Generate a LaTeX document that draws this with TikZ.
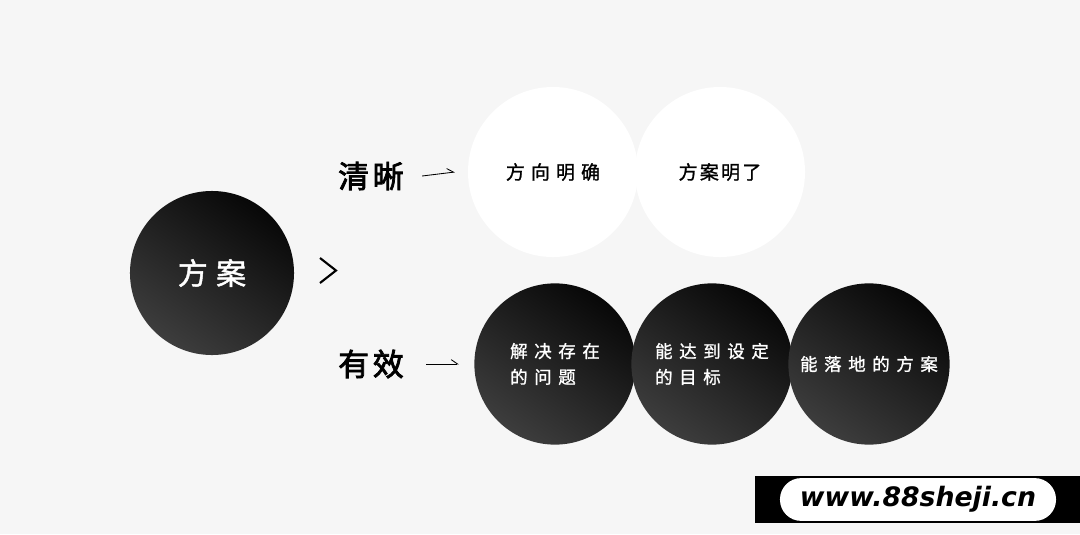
\documentclass[tikz,border=0pt]{standalone}
\usepackage{fontspec}
\setmainfont{Noto Sans CJK SC}
\newfontfamily\bigfont[LetterSpace=28,FakeBold=1.5]{Noto Sans CJK SC}
\newfontfamily\headfont[LetterSpace=12,FakeBold=2.5]{Noto Sans CJK SC}
\newfontfamily\ballfont[LetterSpace=32,FakeBold=1.2]{Noto Sans CJK SC}
\newfontfamily\ballfonttight[LetterSpace=12,FakeBold=1.2]{Noto Sans CJK SC}
\newfontfamily\darkfont[LetterSpace=38,FakeBold=1.2]{Noto Sans CJK SC}
\newfontfamily\webfont{DejaVu Sans}
\usetikzlibrary{arrows.meta}
\definecolor{paper}{HTML}{F6F6F6}

\begin{document}
\begin{tikzpicture}[x=0.025cm, y=-0.025cm,
	darkball/.style={circle, minimum size=4.03cm, inner sep=0pt, shading=axis,
		top color=black!97, bottom color=black!76, shading angle=-35, text=white,
		font=\darkfont\fontsize{12.4pt}{18.4pt}\selectfont, align=left},
	whiteball/.style={circle, minimum size=4.25cm, inner sep=0pt, fill=white,
		font=\fontsize{13.5pt}{16pt}\selectfont},
	headlbl/.style={inner sep=0pt, font=\headfont\fontsize{22pt}{24pt}\selectfont},
	harp/.style={line width=0.6pt, -{Straight Barb[left, length=1.6mm, width=2.2mm]}}]
	
	% background
	\fill[paper] (0,0) rectangle (1080,534);
	\useasboundingbox (0,0) rectangle (1080,534);
	
	% plan
	\node[circle, minimum size=4.1cm, inner sep=0pt, shading=axis, top color=black!97,
		bottom color=black!76, shading angle=-35, text=white,
		font=\bigfont\fontsize{21.3pt}{24pt}\selectfont] (plan) at (212,273) {方案};
	\coordinate (chevtop) at (320,258);
	\coordinate (chevtip) at (336,270.5);
	\coordinate (chevbot) at (320,283);
	\draw[line width=1.5pt] (chevtop) -- (chevtip) -- (chevbot);
	
	% clear
	\node[headlbl] (clear) at (371,176) {清晰};
	\node[whiteball, font=\ballfont\fontsize{13.5pt}{16pt}\selectfont] (direction) at (553,172) {方向明确};
	\node[whiteball, font=\ballfonttight\fontsize{13.5pt}{16pt}\selectfont] (obvious) at (720,172) {方案明了};
	\draw[harp] ([xshift=0.45cm]clear.east) -- ([xshift=-0.32cm]direction.west);
	
	% valid
	\node[headlbl] (valid) at (371,364) {有效};
	\node[darkball] (solve) at (555,364) {解决存在\\的问题};
	\node[darkball] (reach) at (712,364) {能达到设定\\的目标};
	\node[darkball] (land) at (869,364) {\raisebox{-2pt}{能落地的方案}};
	\draw[harp] ([xshift=0.55cm]valid.east) -- ([xshift=-0.38cm]solve.west);
	
	% site mark
	\fill[black] (755,476) rectangle (1080,523);
	\node[fill=white, rounded corners=0.53cm, minimum width=6.9cm, minimum height=1.07cm,
		inner sep=0pt, font=\webfont\bfseries\itshape\fontsize{19pt}{20pt}\selectfont] (site) at (918,499.5) {www.88sheji.cn};
\end{tikzpicture}
\end{document}
